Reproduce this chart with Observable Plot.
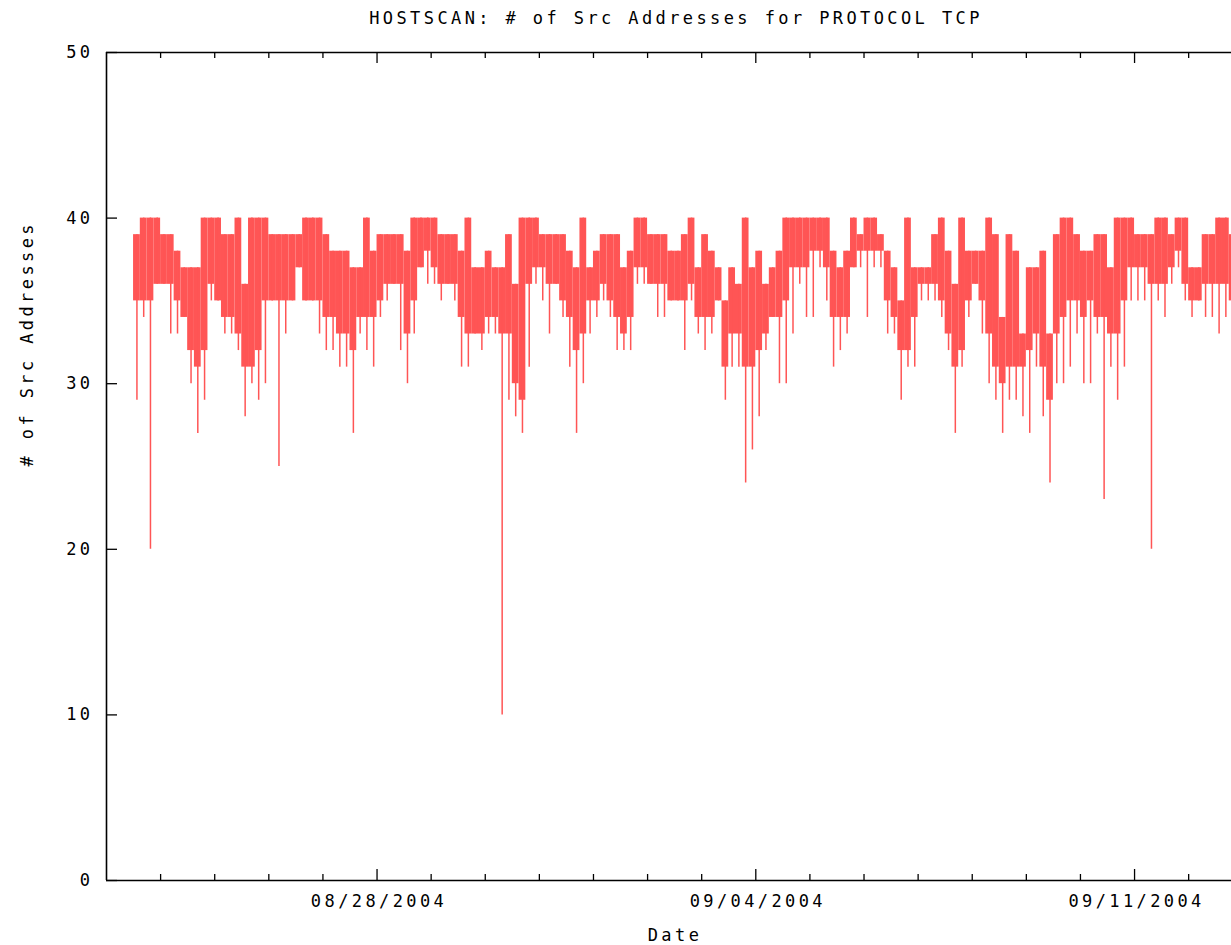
<!DOCTYPE html>
<html><head><meta charset="utf-8">
<script src="https://cdn.jsdelivr.net/npm/d3@7"></script>
<script src="https://cdn.jsdelivr.net/npm/@observablehq/plot@0.6"></script>
<style>
body{margin:0;background:#fff;overflow:hidden}
svg text{letter-spacing:3.4px}
</style>
</head><body><div id="chart"></div>
<script>
const title = "HOSTSCAN: # of Src Addresses for PROTOCOL TCP";
const xLabel = "Date";
const yLabel = "# of Src Addresses";
// 3-hour bins starting 2004-08-23 12:00
const firstBin = "2004-08-23T12:00:00Z";
const binHours = 3;
// per-bin maximum
const hi = [
39,40,40,40,39,39,38,37,37,37,
40,40,40,39,39,40,36,40,40,40,
39,39,39,39,39,40,40,40,39,38,
38,38,37,37,40,38,39,39,39,39,
38,40,40,40,40,39,39,39,38,40,
37,37,38,37,37,39,36,40,40,40,
39,39,39,39,38,37,40,37,38,39,
39,39,37,38,40,40,39,39,39,38,
38,39,40,37,39,38,37,35,37,36,
40,37,38,36,37,38,40,40,40,40,
40,40,40,38,37,38,40,39,40,40,
39,38,37,35,40,37,37,37,39,40,
38,36,40,38,38,38,40,39,34,39,
38,33,37,37,38,33,39,40,40,39,
38,38,39,39,37,40,40,40,39,39,
39,40,40,39,40,40,37,37,39,39,
40,40,39];
// per-bin lower edge of dense band
const mid = [
35,35,35,36,36,36,35,34,32,31,
32,36,35,34,34,33,31,31,32,35,
35,35,35,35,37,35,35,35,34,34,
33,33,32,34,34,34,35,36,36,36,
33,35,37,38,37,36,36,36,34,33,
33,33,34,34,33,33,30,29,36,37,
37,36,36,35,34,32,33,35,35,36,
35,34,33,34,37,37,36,36,36,35,
35,35,36,34,34,34,35,31,33,33,
31,31,32,33,34,34,35,37,37,37,
38,38,37,34,34,34,37,38,38,38,
38,35,34,32,32,34,36,36,36,35,
33,31,32,35,36,35,33,31,30,31,
31,31,32,33,31,29,33,34,35,35,
34,35,34,34,33,33,35,37,37,37,
36,36,36,37,38,36,35,35,36,36,
36,36,35];
// per-bin minimum
const lo = [
29,34,20,36,36,33,33,34,30,27,
29,35,35,33,33,32,28,30,29,30,
35,25,33,35,37,35,35,33,32,32,
31,31,27,33,32,31,34,35,36,32,
30,33,37,36,36,35,36,35,31,31,
33,32,33,33,10,29,28,27,31,36,
35,33,36,34,31,27,30,33,34,35,
34,32,32,32,36,36,36,34,34,35,
35,32,35,33,32,33,35,29,31,31,
24,26,28,32,34,30,30,33,36,34,
34,37,35,31,32,33,37,37,34,37,
37,33,33,29,31,31,35,35,35,34,
32,27,31,34,36,33,30,29,27,29,
29,28,27,31,28,24,30,30,31,33,
30,30,33,23,31,29,31,35,35,35,
20,35,34,36,37,35,34,35,34,34,
33,34,33];
const yTicks = [0,10,20,30,40,50];
const majorDates = ["2004-08-28","2004-09-04","2004-09-11"];
const minorDates = ["2004-08-24","2004-08-25","2004-08-26","2004-08-27",
  "2004-08-29","2004-08-30","2004-08-31","2004-09-01","2004-09-02","2004-09-03",
  "2004-09-05","2004-09-06","2004-09-07","2004-09-08","2004-09-09","2004-09-10",
  "2004-09-12"];
const xDomain = ["2004-08-23T00:00:00Z","2004-09-12T19:00:00Z"];

const H_MS = 3600 * 1000;
const t0 = new Date(firstBin).getTime();
const data = hi.map((h, i) => ({
  a: new Date(t0 + i * binHours * H_MS),
  b: new Date(t0 + (i + 1) * binHours * H_MS),
  c: new Date(t0 + (i + 0.5) * binHours * H_MS),
  hi: h, mid: mid[i], lo: lo[i]
}));

const W = 1231, H = 945, mL = 106, mR = 0, mT = 52, mB = 65;
const plotW = W - mL - mR, plotH = H - mT - mB;
const font = "'DejaVu Sans Mono', monospace";
const red = "#ff5555";
const txt = {fontFamily: font, fontSize: 17, fill: "#000", lineAnchor: "middle"};
const toDate = d => new Date(d + "T00:00:00Z");

const chart = Plot.plot({
  width: W, height: H,
  marginLeft: mL, marginRight: mR, marginTop: mT, marginBottom: mB,
  x: {type: "utc", domain: xDomain.map(d => new Date(d))},
  y: {domain: [0, 50]},
  style: {fontFamily: font, fontSize: "17px", background: "#fff", overflow: "hidden"},
  marks: [
    Plot.rect(data, {x1: "a", x2: "b", y1: "mid", y2: "hi", fill: red}),
    Plot.ruleX(data, {x: "c", y1: "lo", y2: "hi", stroke: red, strokeWidth: 1.5}),
    // frame
    Plot.ruleY([0, 50], {stroke: "#000", strokeWidth: 1.6}),
    Plot.ruleX([new Date(xDomain[0])], {stroke: "#000", strokeWidth: 1.6}),
    // inward ticks
    Plot.tickX(majorDates, {x: toDate, insetTop: plotH - 11, stroke: "#000", strokeWidth: 1.3}),
    Plot.tickX(majorDates, {x: toDate, insetBottom: plotH - 11, stroke: "#000", strokeWidth: 1.3}),
    Plot.tickX(minorDates, {x: toDate, insetTop: plotH - 6, stroke: "#000", strokeWidth: 1.3}),
    Plot.tickX(minorDates, {x: toDate, insetBottom: plotH - 6, stroke: "#000", strokeWidth: 1.3}),
    Plot.tickY(yTicks, {y: d => d, insetRight: plotW - 11, stroke: "#000", strokeWidth: 1.3}),
    // tick labels
    Plot.axisY(yTicks, {tickSize: 0, tickPadding: 13, label: null, fontSize: 17, fill: "#000"}),
    Plot.axisX(majorDates.map(toDate), {tickSize: 0, tickPadding: 14, label: null,
      tickFormat: d3.utcFormat("%m/%d/%Y"), fontSize: 17, fill: "#000", dx: 2}),
    // titles
    Plot.text([title], {text: d => d, frameAnchor: "top", dy: -34, dx: 7, ...txt}),
    Plot.text([xLabel], {text: d => d, frameAnchor: "bottom", dy: 55, dx: 6, ...txt}),
    Plot.text([yLabel], {text: d => d, frameAnchor: "left", dx: -79, rotate: -90, ...txt})
  ]
});
document.getElementById("chart").appendChild(chart);
</script>
</body></html>
